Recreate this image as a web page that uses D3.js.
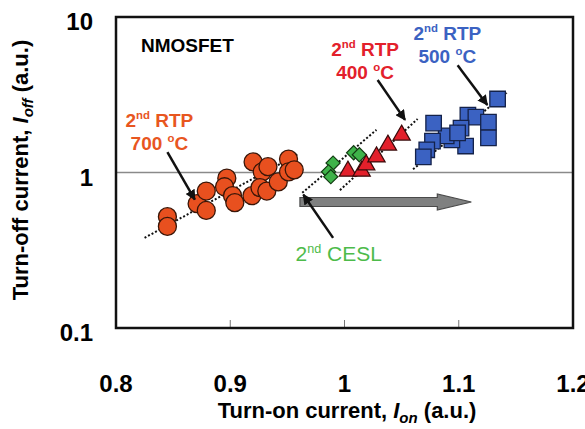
<!DOCTYPE html>
<html>
<head>
<meta charset="utf-8">
<script src="https://cdn.jsdelivr.net/npm/d3@7"></script>
<style>
  body { margin: 0; background: #fff; }
  svg { display: block; font-family: "Liberation Sans", Arial, sans-serif; }
</style>
</head>
<body>
<svg width="585" height="429"></svg>
<script>
// data (Ion, Ioff in a.u.)
const orangeOn  = [0.845, 0.845, 0.871, 0.879, 0.879, 0.897, 0.895, 0.902, 0.904, 0.919, 0.920, 0.928, 0.933, 0.926, 0.932, 0.942, 0.951, 0.951, 0.956];
const orangeOff = [0.52, 0.45, 0.63, 0.76, 0.57, 0.92, 0.81, 0.71, 0.64, 0.71, 1.17, 1.01, 1.09, 0.80, 0.76, 0.87, 1.22, 1.01, 1.04];
const greenOn   = [0.990, 0.986, 0.988, 1.008, 1.013];
const greenOff  = [1.15, 1.01, 0.94, 1.34, 1.30];
const redOn     = [1.003, 1.015, 1.019, 1.028, 1.038, 1.050];
const redOff    = [1.02, 1.02, 1.12, 1.26, 1.50, 1.74];
const blueOn    = [1.134, 1.108, 1.115, 1.126, 1.126, 1.106, 1.102, 1.094, 1.089, 1.078, 1.077, 1.072, 1.069, 1.099];
const blueOff   = [2.97, 2.34, 2.27, 2.11, 1.67, 1.48, 1.93, 1.62, 1.72, 2.08, 1.59, 1.40, 1.26, 1.80];

// dotted trend lines [x1, y1, x2, y2]
const fitLines = [
  [0.825, 0.38, 0.959, 1.31],
  [0.963, 0.74, 1.028, 1.88],
  [0.996, 0.77, 1.064, 2.21],
  [1.060, 1.05, 1.142, 3.25]
];
// black pointer arrows [x1, y1, x2, y2]
const pointers = [
  [0.845, 1.35, 0.869, 0.67],
  [1.029, 3.93, 1.053, 2.18],
  [1.099, 4.9, 1.125, 2.72],
  [0.990, 0.38, 0.964, 0.72]
];
// big grey arrow
const shiftArrow = {from: 0.961, to: 1.111, at: 0.646};

const xTicks = [0.8, 0.9, 1, 1.1, 1.2];
const yTicks = [0.1, 1, 10];

const svg = d3.select('svg');
const width = +svg.attr('width');
const height = +svg.attr('height');
const margin = {top: 17, right: 12, bottom: 101, left: 116};
const innerWidth = width - margin.left - margin.right;
const innerHeight = height - margin.top - margin.bottom;

const x = d3.scaleLinear().domain([0.8, 1.2]).range([0, innerWidth]);
const y = d3.scaleLog().domain([0.1, 10]).range([innerHeight, 0]);

const defs = svg.append('defs');
defs.append('marker')
  .attr('id', 'head')
  .attr('viewBox', '0 0 10 10')
  .attr('refX', 9).attr('refY', 5)
  .attr('markerWidth', 4.2).attr('markerHeight', 4.2)
  .attr('markerUnits', 'strokeWidth')
  .attr('orient', 'auto')
  .append('path').attr('d', 'M0,0 L10,5 L0,10 Z').attr('fill', '#111');

const g = svg.append('g').attr('transform', `translate(${margin.left},${margin.top})`);

// horizontal line at 1
g.append('line')
  .attr('x1', 0).attr('x2', innerWidth)
  .attr('y1', y(1)).attr('y2', y(1))
  .attr('stroke', '#8a8a8a').attr('stroke-width', 1.5);

// x ticks inside
g.append('g').selectAll('line').data(xTicks.slice(1, -1)).enter().append('line')
  .attr('x1', d => x(d)).attr('x2', d => x(d))
  .attr('y1', innerHeight).attr('y2', innerHeight - 8)
  .attr('stroke', '#777').attr('stroke-width', 1);

// axis tick labels
g.append('g').selectAll('text').data(xTicks).enter().append('text')
  .attr('x', d => x(d)).attr('y', innerHeight + 64)
  .attr('text-anchor', 'middle')
  .attr('font-size', 24).attr('font-weight', 'bold')
  .text(d => d3.format('')(d));

g.append('g').selectAll('text').data(yTicks).enter().append('text')
  .attr('x', -23).attr('y', d => y(d) + 13)
  .attr('text-anchor', 'end')
  .attr('font-size', 24).attr('font-weight', 'bold')
  .text(d => d);

// trend lines
g.append('g').selectAll('line').data(fitLines).enter().append('line')
  .attr('x1', d => x(d[0])).attr('y1', d => y(d[1]))
  .attr('x2', d => x(d[2])).attr('y2', d => y(d[3]))
  .attr('stroke', '#111').attr('stroke-width', 2)
  .attr('stroke-dasharray', '2,2');

// grey shift arrow
const ax1 = x(shiftArrow.from), ax2 = x(shiftArrow.to), ay = y(shiftArrow.at);
const hx = ax2 - 34;
g.append('path')
  .attr('d', `M${ax1},${ay - 4.5} L${hx},${ay - 4.5} L${hx},${ay - 8} L${ax2},${ay} L${hx},${ay + 8} L${hx},${ay + 4.5} L${ax1},${ay + 4.5} Z`)
  .attr('fill', '#7f8080').attr('stroke', '#4a4a4a').attr('stroke-width', 1.2);

// markers
const sym = (type, size) => d3.symbol().type(type).size(size)();

g.append('g').selectAll('circle').data(orangeOn.map((d, i) => [d, orangeOff[i]])).enter().append('circle')
  .attr('cx', d => x(d[0])).attr('cy', d => y(d[1])).attr('r', 9)
  .attr('fill', '#e8501f').attr('stroke', '#3a1608').attr('stroke-width', 1.3);

g.append('g').selectAll('path').data(greenOn.map((d, i) => [d, greenOff[i]])).enter().append('path')
  .attr('d', sym(d3.symbolSquare, 100))
  .attr('transform', d => `translate(${x(d[0])},${y(d[1])}) rotate(45)`)
  .attr('fill', '#3fb34a').attr('stroke', '#123a12').attr('stroke-width', 1.2);

g.append('g').selectAll('path').data(redOn.map((d, i) => [d, redOff[i]])).enter().append('path')
  .attr('d', sym(d3.symbolTriangle, 130))
  .attr('transform', d => `translate(${x(d[0])},${y(d[1])})`)
  .attr('fill', '#e3202b').attr('stroke', '#3a0a0a').attr('stroke-width', 1.2);

g.append('g').selectAll('path').data(blueOn.map((d, i) => [d, blueOff[i]])).enter().append('path')
  .attr('d', sym(d3.symbolSquare, 240))
  .attr('transform', d => `translate(${x(d[0])},${y(d[1])})`)
  .attr('fill', '#3b62c2').attr('stroke', '#14224a').attr('stroke-width', 1.3);

// pointer arrows
g.append('g').selectAll('line').data(pointers).enter().append('line')
  .attr('x1', d => x(d[0])).attr('y1', d => y(d[1]))
  .attr('x2', d => x(d[2])).attr('y2', d => y(d[3]))
  .attr('stroke', '#111').attr('stroke-width', 2.5)
  .attr('marker-end', 'url(#head)');

// frame
g.append('rect')
  .attr('width', innerWidth).attr('height', innerHeight)
  .attr('fill', 'none').attr('stroke', '#111').attr('stroke-width', 2.5);

// labels
const label = (lines, cx, y0, color, size, bold) => {
  const t = g.append('text').attr('text-anchor', 'middle')
    .attr('fill', color).attr('font-size', size)
    .attr('font-weight', bold ? 'bold' : 'normal');
  lines.forEach((parts, i) => {
    const row = t.append('tspan').attr('x', cx).attr('y', y0 + i * 23);
    parts.forEach(p => {
      const s = row.append('tspan').text(p.t);
      if (p.sup) s.attr('font-size', size * 0.6).attr('dy', -size * 0.4);
      if (p.back) s.attr('dy', size * 0.4);
    });
  });
};

g.append('text').attr('x', 25).attr('y', 35)
  .attr('font-size', 19).attr('font-weight', 'bold').text('NMOSFET');

label([[{t: '2'}, {t: 'nd', sup: true}, {t: ' RTP', back: true}],
       [{t: '700 '}, {t: 'o', sup: true}, {t: 'C', back: true}]],
  x(0.838), 110, '#e8561f', 19, true);
label([[{t: '2'}, {t: 'nd', sup: true}, {t: ' RTP', back: true}],
       [{t: '400 '}, {t: 'o', sup: true}, {t: 'C', back: true}]],
  x(1.018), 39, '#e3202b', 19, true);
label([[{t: '2'}, {t: 'nd', sup: true}, {t: ' RTP', back: true}],
       [{t: '500 '}, {t: 'o', sup: true}, {t: 'C', back: true}]],
  x(1.09), 23, '#3b62c2', 19, true);
label([[{t: '2'}, {t: 'nd', sup: true}, {t: ' CESL', back: true}]],
  x(0.995), 244, '#4dbb4a', 21, false);

// axis titles
const xt = svg.append('text').attr('x', 347).attr('y', 418)
  .attr('text-anchor', 'middle').attr('font-size', 22).attr('font-weight', 'bold');
xt.append('tspan').text('Turn-on current, ');
xt.append('tspan').attr('font-style', 'italic').text('I');
xt.append('tspan').attr('font-style', 'italic').attr('font-size', 15).attr('dy', 5).text('on');
xt.append('tspan').attr('dy', -5).text(' (a.u.)');

const yt = svg.append('text').attr('transform', 'translate(28,170) rotate(-90)')
  .attr('text-anchor', 'middle').attr('font-size', 22).attr('font-weight', 'bold');
yt.append('tspan').text('Turn-off current, ');
yt.append('tspan').attr('font-style', 'italic').text('I');
yt.append('tspan').attr('font-style', 'italic').attr('font-size', 15).attr('dy', 5).text('off');
yt.append('tspan').attr('dy', -5).text(' (a.u.)');
</script>
</body>
</html>
